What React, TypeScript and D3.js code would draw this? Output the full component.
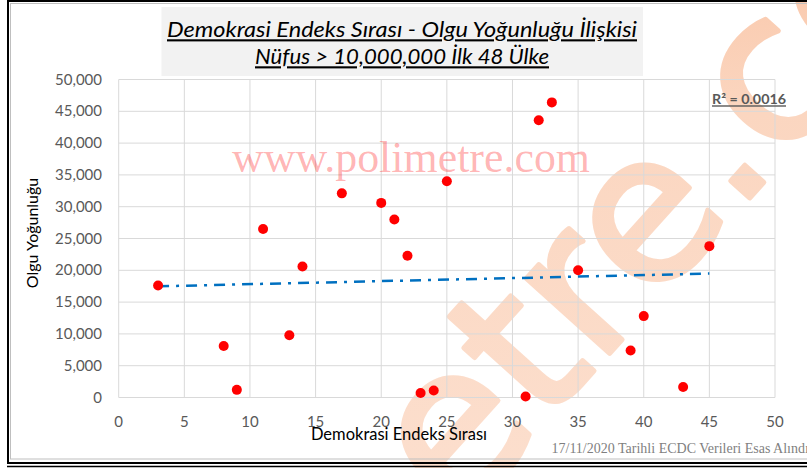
import React from "react";
import * as d3 from "d3";

const W = 807;
const H = 468;

const titleLines = [
  "Demokrasi Endeks Sırası - Olgu Yoğunluğu İlişkisi",
  "Nüfus > 10,000,000 İlk 48 Ülke",
];
const xTitle = "Demokrasi Endeks Sırası";
const yTitle = "Olgu Yoğunluğu";
const r2Label = "R² = 0.0016";
const footnote = "17/11/2020 Tarihli ECDC Verileri Esas Alındı";
const watermarkSmall = "www.polimetre.com";
const watermarkBig = "polimetre.com";

const xValues = [3, 8, 9, 11, 13, 14, 17, 20, 21, 22, 23, 24, 25, 31, 32, 33, 35, 39, 40, 43, 45];
const yValues = [17600, 8100, 1200, 26500, 9800, 20600, 32100, 30600, 28000, 22300, 700, 1100, 34000, 150, 43600, 46400, 20000, 7400, 12800, 1650, 23800];

const xDomain = [0, 50];
const yDomain = [0, 50000];
const xTicks = d3.range(0, 51, 5);
const yTicks = d3.range(0, 50001, 5000);

const PLOT = { left: 118.7, right: 775, top: 79.5, bottom: 397.5 };
const FONT = "Lato, 'Open Sans', sans-serif";

function linearFit(xs: number[], ys: number[]) {
  const mx = d3.mean(xs)!;
  const my = d3.mean(ys)!;
  let sxy = 0;
  let sxx = 0;
  xs.forEach((x, i) => {
    sxy += (x - mx) * (ys[i] - my);
    sxx += (x - mx) * (x - mx);
  });
  const slope = sxy / sxx;
  const intercept = my - slope * mx;
  return (x: number) => intercept + slope * x;
}

export default function App() {
  const x = d3.scaleLinear().domain(xDomain).range([PLOT.left, PLOT.right]);
  const y = d3.scaleLinear().domain(yDomain).range([PLOT.bottom, PLOT.top]);
  const fit = linearFit(xValues, yValues);
  const xMin = d3.min(xValues)!;
  const xMax = d3.max(xValues)!;
  const trend = d3.line<number>().x((d) => x(d)).y((d) => y(fit(d)))([xMin, xMax]) || "";
  const fmt = d3.format(",");
  const pts = xValues.map((v, i) => [v, yValues[i]]);

  return (
    <svg
      width={W}
      height={H}
      style={{ position: "absolute", left: 0, top: 0, display: "block" }}
      xmlns="http://www.w3.org/2000/svg"
    >
      <defs>
        <linearGradient id="wmGrad" gradientUnits="userSpaceOnUse" x1="300" y1="468" x2="800" y2="0">
          <stop offset="0" stopColor="#FCDFCE" />
          <stop offset="0.55" stopColor="#FBD6C0" />
          <stop offset="1" stopColor="#F8B995" />
        </linearGradient>
      </defs>
      <rect x={0} y={0} width={W} height={H} fill="#ffffff" />

      {/* big diagonal watermark */}
      <text
        transform="translate(575,392) rotate(-48)"
        textAnchor="middle"
        fontFamily="'DejaVu Sans', sans-serif"
        fontSize={205}
        fill="url(#wmGrad)"
        stroke="url(#wmGrad)"
        strokeWidth={5}
        strokeLinejoin="round"
      >
        {watermarkBig}
      </text>

      {/* title box */}
      <rect x={161.5} y={7} width={481.5} height={69} fill="#F2F2F2" />
      {titleLines.map((t, i) => (
        <text
          key={i}
          x={402}
          y={i === 0 ? 37.3 : 64.3}
          textAnchor="middle"
          fontFamily={FONT}
          fontStyle="italic"
          fontSize={21}
          fill="#000"
          textDecoration="underline"
          textLength={i === 0 ? 470 : 294}
          lengthAdjust="spacingAndGlyphs"
        >
          {t}
        </text>
      ))}

      {/* gridlines */}
      <g stroke="#D9D9D9" strokeWidth={1}>
        {yTicks.map((t) => (
          <line key={"gy" + t} x1={PLOT.left} x2={PLOT.right} y1={y(t)} y2={y(t)} />
        ))}
        {xTicks.map((t) => (
          <line key={"gx" + t} x1={x(t)} x2={x(t)} y1={PLOT.top} y2={PLOT.bottom} />
        ))}
      </g>

      {/* small watermark */}
      <text
        x={232}
        y={171.5}
        fontFamily="'Liberation Serif', 'Times New Roman', serif"
        fontSize={44}
        fill="#FF0000"
        fillOpacity={0.3}
        textLength={358}
        lengthAdjust="spacingAndGlyphs"
      >
        {watermarkSmall}
      </text>

      {/* tick labels */}
      <g fontFamily={FONT} fontSize={15} fill="#595959">
        {yTicks.map((t) => (
          <text key={"ly" + t} x={102} y={y(t) + 5} textAnchor="end">
            {fmt(t)}
          </text>
        ))}
        {xTicks.map((t) => (
          <text key={"lx" + t} x={x(t)} y={426.7} textAnchor="middle">
            {t}
          </text>
        ))}
      </g>

      {/* trend line */}
      <path
        d={trend}
        fill="none"
        stroke="#0070C0"
        strokeWidth={2.5}
        strokeDasharray="11 7 3 7"
      />

      {/* points */}
      <g fill="#FF0000">
        {pts.map(([a, b], i) => (
          <circle key={i} cx={x(a)} cy={y(b)} r={5} />
        ))}
      </g>

      {/* R2 label */}
      <text
        x={712}
        y={104.3}
        fontFamily={FONT}
        fontWeight="bold"
        fontSize={14}
        fill="#595959"
        textDecoration="underline"
        textLength={74}
        lengthAdjust="spacingAndGlyphs"
      >
        {r2Label}
      </text>

      {/* axis titles */}
      <text x={399} y={439.5} textAnchor="middle" fontFamily={FONT} fontSize={16.5} fill="#000">
        {xTitle}
      </text>
      <text
        transform="translate(37.5,233) rotate(-90)"
        textAnchor="middle"
        fontFamily={FONT}
        fontSize={16}
        fill="#000"
      >
        {yTitle}
      </text>

      {/* footnote */}
      <text
        x={551.5}
        y={452.7}
        fontFamily="'Liberation Serif', 'Times New Roman', serif"
        fontSize={14}
        fill="#7F7F7F"
      >
        {footnote}
      </text>

      {/* frame */}
      <rect x={10.5} y={3.5} width={W} height={455.5} fill="none" stroke="#BFBFBF" strokeWidth={1} />
      <rect x={8} y={1} width={W + 10} height={462} fill="none" stroke="#000" strokeWidth={2} />
      <line x1={7} x2={W} y1={466.5} y2={466.5} stroke="#000" strokeWidth={1.5} />
    </svg>
  );
}
